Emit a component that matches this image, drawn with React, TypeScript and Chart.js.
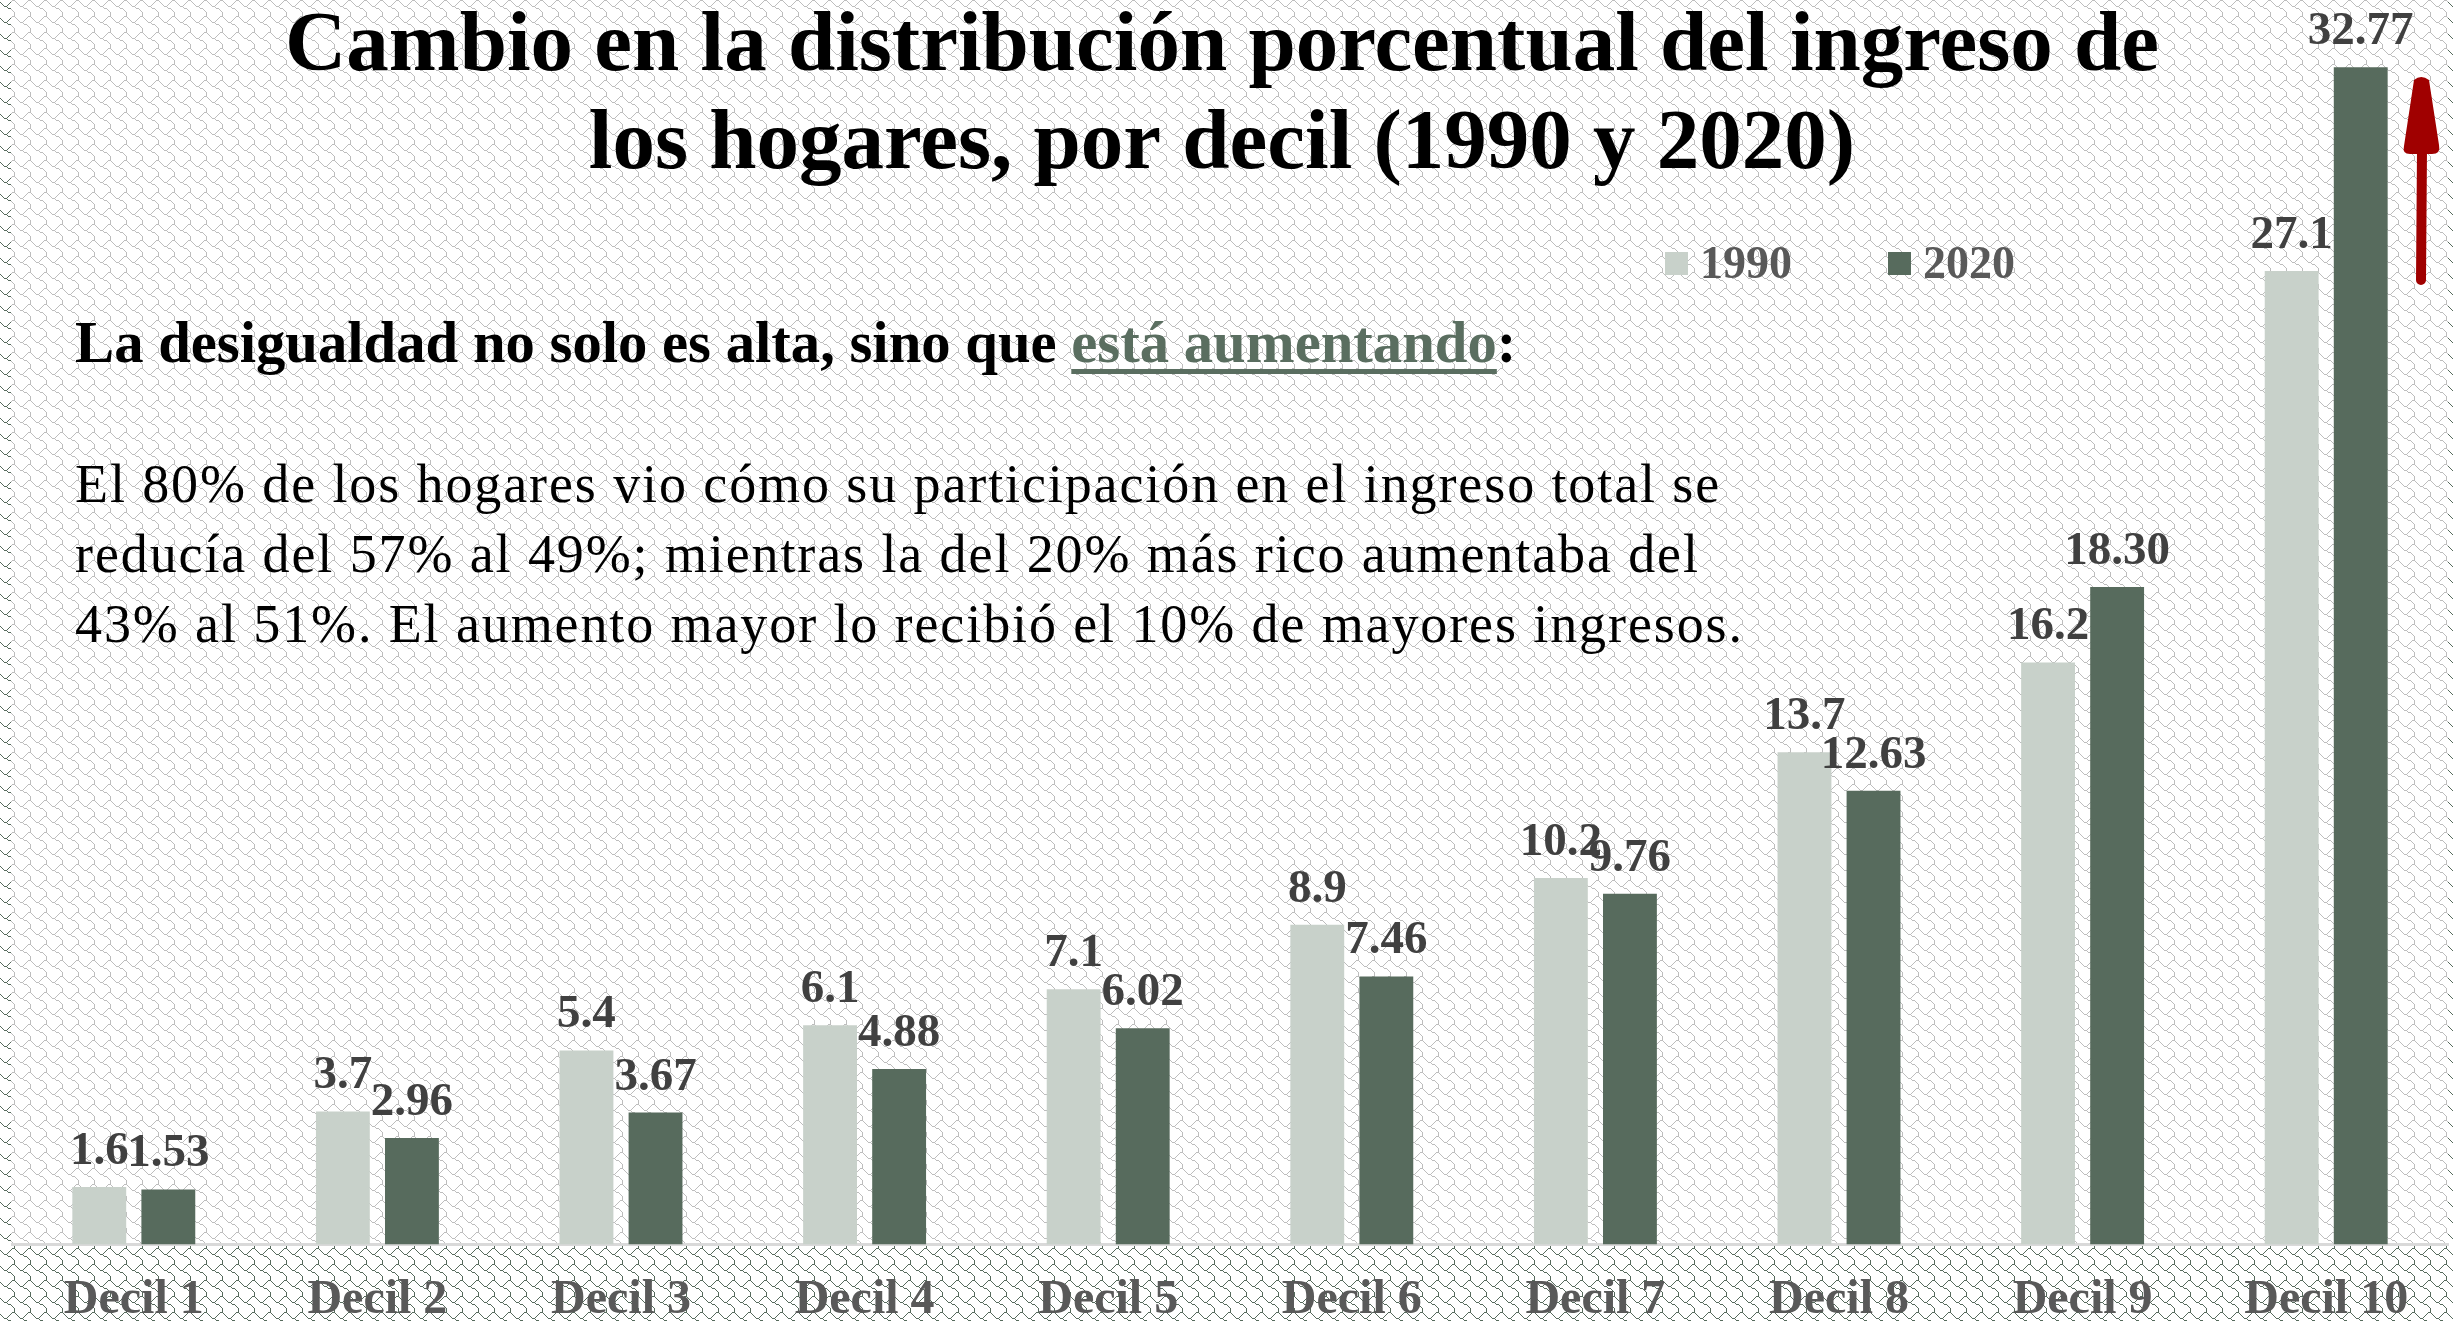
import React, { useEffect, useRef } from "react";
import { Chart, registerables } from "chart.js";

Chart.register(...registerables);

// ---------- data ----------
const categories = ["Decil 1", "Decil 2", "Decil 3", "Decil 4", "Decil 5", "Decil 6", "Decil 7", "Decil 8", "Decil 9", "Decil 10"];
const values1990 = [1.6, 3.7, 5.4, 6.1, 7.1, 8.9, 10.2, 13.7, 16.2, 27.1];
const values2020 = [1.53, 2.96, 3.67, 4.88, 6.02, 7.46, 9.76, 12.63, 18.3, 32.77];
const seriesLabels = ["1990", "2020"];
const seriesDecimals = [1, 2];
const seriesColors = ["#c8d1ca", "#576b5d"];
const titleLines = ["Cambio en la distribución porcentual del ingreso de", "los hogares, por decil (1990 y 2020)"];
const subtitleStart = "La desigualdad no solo es alta, sino que ";
const subtitleHighlight = "está aumentando";
const subtitleEnd = ":";
const bodyLines = [
  "El 80% de los hogares vio cómo su participación en el ingreso total se",
  "reducía del 57% al 49%; mientras la del 20% más rico aumentaba del",
  "43% al 51%. El aumento mayor lo recibió el 10% de mayores ingresos.",
];

const SERIF = '"Liberation Serif", "Times New Roman", serif';
const W = 2453;
const H = 1321;
const CANVAS_H = 1356;

// shingle hatch traced as 1px stepped lines on a 16x16 tile
const SHINGLE_PATHS = [
  [[0, 2], [2, 4], [4, 6], [6, 6], [8, 4], [10, 2], [12, 0], [14, 0], [16, 2]],
  [[6, 6], [8, 8], [10, 8], [12, 10], [14, 12], [14, 16]],
];

function makePattern(ctx: CanvasRenderingContext2D, color: string) {
  const N = 16;
  const tile = document.createElement("canvas");
  tile.width = N;
  tile.height = N;
  const t = tile.getContext("2d")!;
  t.fillStyle = "#ffffff";
  t.fillRect(0, 0, N, N);
  t.fillStyle = color;
  const plot = (x: number, y: number) => t.fillRect(((x % N) + N) % N, ((y % N) + N) % N, 1, 1);
  SHINGLE_PATHS.forEach((path) => {
    for (let i = 0; i < path.length - 1; i++) {
      let [x0, y0] = path[i];
      const [x1, y1] = path[i + 1];
      const dx = Math.abs(x1 - x0), sx = x0 < x1 ? 1 : -1;
      const dy = -Math.abs(y1 - y0), sy = y0 < y1 ? 1 : -1;
      let err = dx + dy;
      for (;;) {
        plot(x0, y0);
        if (x0 === x1 && y0 === y1) break;
        const e2 = 2 * err;
        if (e2 >= dy) { err += dy; x0 += sx; }
        if (e2 <= dx) { err += dx; y0 += sy; }
      }
    }
  });
  return ctx.createPattern(tile, "repeat")!;
}

const backgroundPlugin = {
  id: "bgPattern",
  beforeDraw(chart: any) {
    const ctx = chart.ctx as CanvasRenderingContext2D;
    ctx.save();
    ctx.fillStyle = makePattern(ctx, "#566a5c");
    ctx.fillRect(0, 0, chart.width, chart.height);
    const a = chart.chartArea;
    ctx.fillStyle = makePattern(ctx, "#bdbdbd");
    ctx.fillRect(a.left - 1, 0, a.right - a.left + 1, a.bottom);
    ctx.restore();
  },
};

const labelsPlugin = {
  id: "valueLabels",
  afterDatasetsDraw(chart: any) {
    const ctx = chart.ctx as CanvasRenderingContext2D;
    ctx.save();
    ctx.font = `bold 47px ${SERIF}`;
    ctx.fillStyle = "#404040";
    ctx.textAlign = "center";
    ctx.textBaseline = "alphabetic";
    chart.data.datasets.forEach((ds: any, di: number) => {
      const meta = chart.getDatasetMeta(di);
      meta.data.forEach((bar: any, i: number) => {
        const v = ds.data[i] as number;
        ctx.fillText(v.toFixed(seriesDecimals[di]), bar.x, bar.y - 23);
      });
    });
    ctx.restore();
  },
};

const textPlugin = {
  id: "texts",
  afterDraw(chart: any) {
    const ctx = chart.ctx as CanvasRenderingContext2D;
    ctx.save();
    // title
    ctx.fillStyle = "#000000";
    ctx.textAlign = "center";
    ctx.textBaseline = "alphabetic";
    ctx.font = `bold 85px ${SERIF}`;
    ctx.fillText(titleLines[0], 1222, 70);
    ctx.fillText(titleLines[1], 1222, 168);

    // legend
    ctx.textAlign = "left";
    ctx.font = `bold 46px ${SERIF}`;
    const legendX = [1665, 1888];
    seriesLabels.forEach((lab, i) => {
      ctx.fillStyle = seriesColors[i];
      ctx.fillRect(legendX[i], 252, 23, 23);
      ctx.fillStyle = "#595959";
      ctx.fillText(lab, legendX[i] + 35, 278);
    });

    // subtitle
    ctx.font = `bold 58.7px ${SERIF}`;
    let x = 75;
    const sy = 362;
    ctx.fillStyle = "#000000";
    ctx.fillText(subtitleStart, x, sy);
    x += ctx.measureText(subtitleStart).width;
    ctx.fillStyle = "#5a6e60";
    ctx.fillText(subtitleHighlight, x, sy);
    const hw = ctx.measureText(subtitleHighlight).width;
    ctx.fillRect(x, sy + 7, hw, 5);
    x += hw;
    ctx.fillStyle = "#000000";
    ctx.fillText(subtitleEnd, x, sy);

    // body
    ctx.font = `54px ${SERIF}`;
    (ctx as any).letterSpacing = "1.9px";
    const bodyY = [502, 572, 642];
    bodyLines.forEach((line, i) => ctx.fillText(line, 75, bodyY[i]));
    (ctx as any).letterSpacing = "0px";

    // red arrow
    ctx.fillStyle = "#a00000";
    ctx.strokeStyle = "#a00000";
    ctx.lineWidth = 10;
    ctx.lineCap = "round";
    ctx.beginPath();
    ctx.moveTo(2421, 280);
    ctx.lineTo(2422, 150);
    ctx.stroke();
    ctx.beginPath();
    ctx.moveTo(2414, 80);
    ctx.quadraticCurveTo(2421, 74, 2429, 80);
    ctx.lineTo(2439, 145);
    ctx.quadraticCurveTo(2441, 154, 2432, 154);
    ctx.lineTo(2410, 154);
    ctx.quadraticCurveTo(2402, 154, 2404, 146);
    ctx.closePath();
    ctx.fill();
    ctx.restore();
  },
};

export default function App() {
  const ref = useRef<HTMLCanvasElement | null>(null);

  useEffect(() => {
    document.body.style.margin = "0";
    document.body.style.overflow = "hidden";
    const canvas = ref.current!;
    const chart = new Chart(canvas, {
      type: "bar",
      data: {
        labels: categories,
        datasets: [
          { label: seriesLabels[0], data: values1990, backgroundColor: seriesColors[0], barPercentage: 0.78, categoryPercentage: 0.567 },
          { label: seriesLabels[1], data: values2020, backgroundColor: seriesColors[1], barPercentage: 0.78, categoryPercentage: 0.567 },
        ],
      },
      options: {
        responsive: false,
        animation: false,
        devicePixelRatio: 1,
        layout: { padding: { top: 23, left: 12, right: 5, bottom: 0 } },
        plugins: {
          legend: { display: false },
          tooltip: { enabled: false },
          title: { display: false },
        },
        scales: {
          x: {
            grid: { display: false, drawTicks: false },
            border: { display: true, color: "#d9d9d9", width: 3 },
            ticks: {
              color: "#595959",
              font: { family: SERIF, size: 48, weight: "bold", lineHeight: 0.883 },
              padding: 34.6,
              maxRotation: 0,
              autoSkip: false,
            },
          },
          y: { display: false, min: 0, max: 34 },
        },
      },
      plugins: [backgroundPlugin, labelsPlugin, textPlugin],
    } as any);
    return () => chart.destroy();
  }, []);

  return (
    <div style={{ width: W, height: H, overflow: "hidden", position: "relative" }}>
      <canvas ref={ref} width={W} height={CANVAS_H} style={{ display: "block", width: W, height: CANVAS_H }} />
    </div>
  );
}
